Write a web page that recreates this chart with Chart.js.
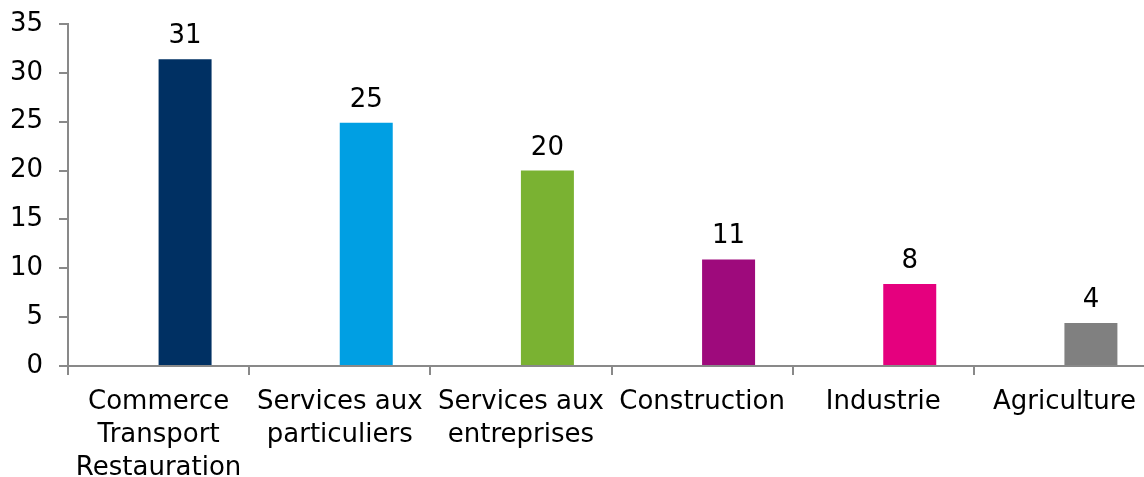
<!DOCTYPE html>
<html>
<head>
<meta charset="utf-8">
<script src="https://cdn.jsdelivr.net/npm/chart.js@4"></script>
<style>
    html, body { margin: 0; padding: 0; background: #fff; overflow: hidden; }
</style>
</head>
<body>
<canvas id="chart_secteurs" width="1160" height="477"></canvas>
<script>
const categories = [
    ['Commerce', 'Transport', 'Restauration'],
    ['Services aux', 'particuliers'],
    ['Services aux', 'entreprises'],
    'Construction',
    'Industrie',
    'Agriculture'
];
const values = [31.4, 24.9, 20.0, 10.9, 8.4, 4.4];
const yTicks = [0, 5, 10, 15, 20, 25, 30, 35];
const barColors = ['#003063', '#009fe3', '#7ab232', '#9e0a7c', '#e5007e', '#808080'];

const axisColor = '#898989';
const font = { family: 'DejaVu Sans', size: 26 };

// étiquettes de valeur au-dessus des barres
const valueLabels = {
    id: 'valueLabels',
    afterDatasetsDraw(chart) {
        const ctx = chart.ctx;
        const meta = chart.getDatasetMeta(1);
        ctx.save();
        ctx.font = font.size + 'px ' + font.family;
        ctx.fillStyle = '#000';
        ctx.textAlign = 'center';
        ctx.textBaseline = 'alphabetic';
        meta.data.forEach((bar, i) => {
            ctx.fillText(Math.round(values[i]), bar.x, bar.y - 16);
        });
        ctx.restore();
    }
};

new Chart(document.getElementById('chart_secteurs'), {
    type: 'bar',
    data: {
        labels: categories,
        datasets: [
            {
                // série vide : décale la barre comme dans l'original
                label: '',
                data: values.map(() => null),
                backgroundColor: 'transparent'
            },
            {
                label: 'Secteurs',
                data: values,
                backgroundColor: barColors
            }
        ]
    },
    plugins: [valueLabels],
    options: {
        responsive: false,
        animation: false,
        categoryPercentage: 0.585,
        barPercentage: 1,
        layout: { padding: { top: 24, right: 5, left: 0, bottom: 0 } },
        plugins: {
            legend: { display: false },
            tooltip: { enabled: false }
        },
        scales: {
            x: {
                afterFit: (scale) => { scale.height = 111; },
                border: { color: axisColor, width: 2 },
                grid: {
                    drawOnChartArea: false,
                    drawTicks: true,
                    tickLength: 9,
                    color: axisColor,
                    lineWidth: 2
                },
                ticks: {
                    color: '#000',
                    font: { ...font, lineHeight: 1.27 },
                    padding: 11,
                    maxRotation: 0,
                    autoSkip: false
                }
            },
            y: {
                min: 0,
                max: 35,
                afterFit: (scale) => {
                    scale.width = 68;
                    scale.paddingTop = 0;
                    scale.paddingBottom = 0;
                },
                afterBuildTicks: (scale) => {
                    scale.ticks = yTicks.map(v => ({ value: v }));
                },
                border: { color: axisColor, width: 2 },
                grid: {
                    drawOnChartArea: false,
                    drawTicks: true,
                    tickLength: 9,
                    color: axisColor,
                    lineWidth: 2
                },
                ticks: {
                    color: '#000',
                    font: font,
                    padding: 16
                }
            }
        }
    }
});
</script>
</body>
</html>
